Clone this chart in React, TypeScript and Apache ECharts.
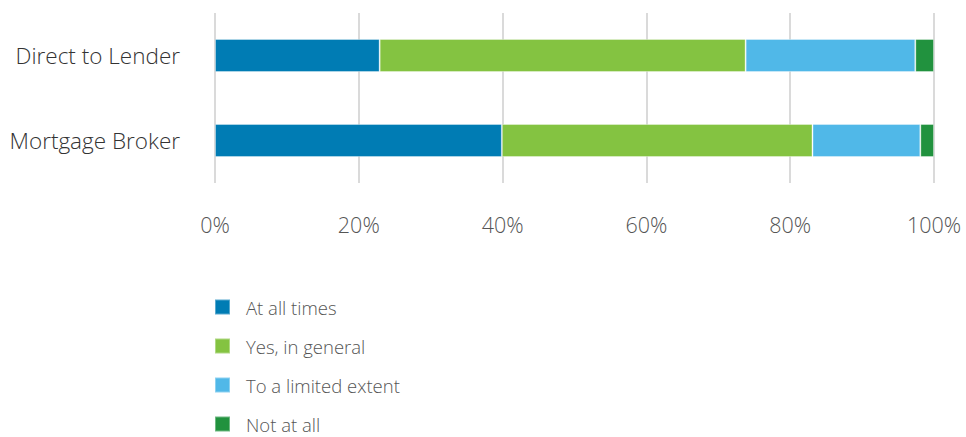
import React, { useEffect, useRef } from "react";
import * as echarts from "echarts";

const categories = ["Direct to Lender", "Mortgage Broker"];
const seriesNames = ["At all times", "Yes, in general", "To a limited extent", "Not at all"];
const atAllTimes = [22.9, 39.9];
const yesInGeneral = [50.9, 43.2];
const limitedExtent = [23.6, 15.0];
const notAtAll = [2.6, 1.9];
const colors = ["#007CB4", "#84C341", "#50B8E8", "#21923E"];

export default function App() {
  const ref = useRef<HTMLDivElement>(null);
  useEffect(() => {
    if (!ref.current) return;
    const chart = echarts.init(ref.current, undefined, { renderer: "svg" });
    const values = [atAllTimes, yesInGeneral, limitedExtent, notAtAll];
    chart.setOption({
      animation: false,
      textStyle: { fontFamily: "Open Sans" },
      grid: { left: 215, right: 32, top: 13, bottom: 254 },
      xAxis: {
        type: "value",
        min: 0,
        max: 100,
        interval: 20,
        axisLine: { show: false },
        axisTick: { show: false },
        splitLine: { show: true, lineStyle: { color: "#dadada", width: 2 } },
        axisLabel: {
          formatter: "{value}%",
          fontSize: 21.5,
          fontWeight: 300,
          color: "#555",
          margin: 30,
          fontFamily: "Open Sans",
        },
      },
      yAxis: {
        type: "category",
        data: categories,
        inverse: true,
        axisLine: { show: false },
        axisTick: { show: false },
        axisLabel: {
          fontSize: 22.5,
          fontWeight: 300,
          color: "#333",
          margin: 35,
          fontFamily: "Open Sans",
        },
      },
      legend: {
        orient: "vertical",
        left: 214,
        top: 296,
        padding: 0,
        height: 200,
        icon: "rect",
        itemWidth: 15,
        itemHeight: 15,
        itemGap: 17,
        data: seriesNames,
        textStyle: {
          fontSize: 18.5,
          fontWeight: 300,
          color: "#555",
          lineHeight: 22,
          padding: [0, 0, 0, 11],
          fontFamily: "Open Sans",
        },
      },
      series: seriesNames.map((name, i) => ({
        name,
        type: "bar",
        stack: "total",
        barWidth: 33,
        data: values[i],
        itemStyle: {
          color: colors[i],
          borderColor: "rgba(255,255,255,0.35)",
          borderWidth: 1,
        },
      })),
    });
    return () => chart.dispose();
  }, []);
  return (
    <div
      ref={ref}
      style={{ position: "absolute", left: 0, top: 0, width: 966, height: 437 }}
    />
  );
}
